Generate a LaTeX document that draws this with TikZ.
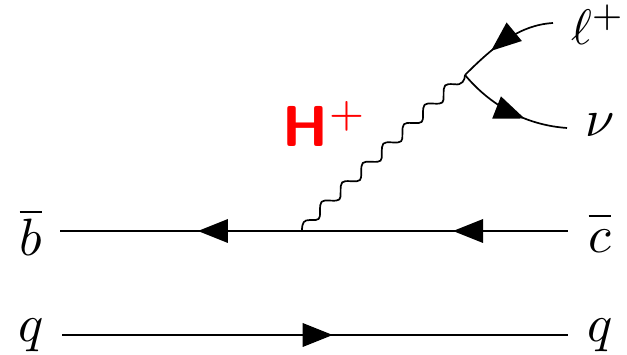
\documentclass[tikz,border=0pt]{standalone}
\usetikzlibrary{arrows.meta,decorations.markings}
\tikzset{
  x=1pt,y=-1pt,
  lbl/.style={inner sep=0pt,scale=5.25},
  fermion/.style={line width=1.7pt,black},
  arrowat/.style={postaction={decorate},decoration={markings,mark=at position #1 with {\arrow[line width=0pt]{Triangle[length=30pt,width=24pt]}}}},
  arrowrev/.style={postaction={decorate},decoration={markings,mark=at position #1 with {\arrowreversed[line width=0pt]{Triangle[length=30pt,width=24pt]}}}},
  boson/.style={line width=1.7pt,black,line join=round}
}
\begin{document}
\begin{tikzpicture}
\useasboundingbox (0,0) rectangle (627,355);
\coordinate (bL) at (60,231);
\coordinate (bR) at (568,231);
\coordinate (qL) at (62,335);
\coordinate (qR) at (568,335);
\coordinate (hv) at (302,231);
\coordinate (wv) at (465,75);
\coordinate (lE) at (553,23);
\coordinate (nE) at (567,128);
\coordinate (c1) at (495,45);
\coordinate (c2) at (520,25);
\coordinate (c3) at (490,105);
\coordinate (c4) at (525,125);
\node[lbl] (bbar) at (31,232) {$\overline{b}$};
\node[lbl,anchor=base] (cbar) at (600,253) {$\overline{c\vphantom{\rule{0pt}{5.6pt}}}$};
\node[lbl] (q1) at (31,335) {$q$};
\node[lbl] (q2) at (600,335) {$q$};
\node[lbl,scale=0.95] (ell) at (598,25) {$\ell^{+}$};
\node[lbl] (nu) at (600,125) {$\nu$};
\node[lbl,scale=1.1,text=red] (H) at (325,124) {\sffamily\bfseries H$^{\mathsf{+}}$};
\draw[fermion,arrowrev=0.57] (bL) -- (hv);
\draw[fermion,arrowrev=0.568] (hv) -- (bR);
\draw[fermion,arrowat=0.535] (qL) -- (qR);
\draw[boson] (hv) .. controls +(0,-9) and +(-6,0) .. ++(8,-11)
  foreach \k in {1,...,7}{
    .. controls +(10,0.5) and +(0,7.5) .. ++(10,-8.3)
    .. controls +(0,-11) and +(-10,-0.5) .. ++(10.6,-11.1)
  }
  .. controls +(8,1.5) and +(0,5) .. (wv);
\draw[fermion,arrowrev=0.34] (wv) .. controls (c1) and (c2) .. (lE);
\draw[fermion,arrowat=0.63] (wv) .. controls (c3) and (c4) .. (nE);
\end{tikzpicture}
\end{document}
